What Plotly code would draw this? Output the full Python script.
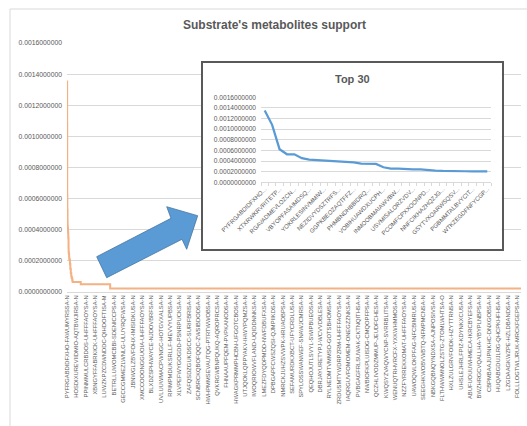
import plotly.graph_objects as go

# ---- data -------------------------------------------------------------
# Support of the 31 highest-ranked substrate metabolites (rank 1 = highest)
top_ranks = list(range(1, 32))
top_support = [0.001352, 0.001082, 0.000623, 0.000528, 0.000528, 0.000453, 0.000428,
               0.000421, 0.000415, 0.000409, 0.000396, 0.000384, 0.000377, 0.000352,
               0.000346, 0.000346, 0.000283, 0.000258, 0.000258, 0.000245, 0.000245,
               0.000245, 0.000226, 0.000220, 0.000214, 0.000208, 0.000208, 0.000208,
               0.000208, 0.000208, 0.000208]

# Labels shown on the "Top 30" axis (every second rank)
top_label_ranks = list(range(1, 32, 2))
top_labels = [
    "PYFRGABDIDFXHO...", "XTXRWKRVRITETP...", "RGAVADMEVLOZCN...", "VBYOPFASAIMDSQ...",
    "YOKRLESINVMMIW...", "NEZIDVYDSZTRFS...", "GGPKBEOZAQTFFZ...", "PHMBNDHBBIDRQ...",
    "VOBIHUAWDXUCPH...", "INMOOBMAIAWVBW...", "USVMISALORZVDV...", "PCOMFCPXXOONPD...",
    "NNFCIKHAZHQZJG...", "GSYTVXOARWSQSV...", "PGBMMTALBVYCIT...", "WTKZEGDFNFYCGP...",
]

# Long tail: rank at which each support level starts
tail_ranks = [32, 36, 41, 46, 51, 56, 61, 147, 461]
tail_support = [0.00018, 0.00015, 0.00012, 0.00010, 0.00009, 0.000075, 0.000065,
                0.00005, 0.000022]
total_substrates = 4843

# Substrate keys labelled on the full axis (every 100th rank)
axis_label_ranks = list(range(1, total_substrates, 100))
axis_labels = [
    "PYFRGABDIDFXHO-FAWUMYRSSA-N", "HOSDIXUREVIIDMIO-AQTBWJIRSA-N",
    "PPINMMULCRBDOS-UHFFFAOYSA-N", "XBNGYFFABRKICK-UHFFFAOYSA-N",
    "LUWZKPZCDWNDDC-QIHDOFTISA-M", "BETRLLUWOMCBBI-SDENICCPSA-N",
    "GECCGMMEZLWNLG-ULUYRQFWSA-N", "JBNWGLZBVFOHX-IMISIDKUSA-N",
    "XMCCOOONGGUOIA-UHFFFAOYSA-N", "BLXDZSPHWAYCE-NJDOVBRFSA-N",
    "UVLUUWMACPWNGC-HOTGVXALSA-N", "RPIMPMDUKSRLLF-MEVVYUPBSA-N",
    "XLVPEFWYGOGDD-PSNRPUCKSA-N", "ZAFQSDZGUKDSCC-SURIFBRISA-N",
    "SCNBRCKQBOFQQC-ZWSIBDODSA-N", "HWHPMMSEVAUTQG-PTRTWWOBSA-N",
    "QVKRGWBNPQUKQ-AQROPRCSA-N", "FHNAAUPFQEM-PVPKANODSA-N",
    "HWAGKPRMMPHCBN-UFGOTCBOSA-N", "UTJQOKLQPPYAKV-IHWYPQMZSA-N",
    "IWOQRIOWVFLAND-UQIDDNNKSA-N", "LMEZFDYQDPMDD-NWFDBUFXSA-N",
    "DPBGAPFCWSZQSI-QJMPIIKDSA-N", "NMRCKJUHZSVWPK-HRUAOBPSA-N",
    "SEFAMURDKXBCT-UFYCRDLUSA-N", "SPYLOSSWANWEF-SNAWJCMRSA-N",
    "QEQHOJUTLSVYL-SWIPBUEOSA-N", "DBRJAYURETYPJ-WCVVDBLESA-N",
    "RYLNEDMTVMMSO-GOTSBHOMSA-N", "ZRDUSMTYWDRPZRM-UHFFFAOYSA-N",
    "IAQRGUVFOMOMEM-ONEGZZNKSA-N", "PVBGAGFRLSUWAK-CKTNQITHSA-N",
    "NWBIOFKPLUISDG-CMQOPFPSA-N", "QCZHLIVODZMMUP-JEUDFCHESA-N",
    "KWQSYZVAQWYCNP-SVRRBLITSA-N", "WENUQTRHVRCFX-YXKWHMMOSA-N",
    "NZZFYRREKKOMAT-UHFFFAOYSA-N", "UAWOQWLOKPFAG-NFCBIMRUSA-N",
    "SEEGHKWOBVWBTQ-NFMPMCNSA-N", "NBKGQBNQYNDXSA-AJNPOSIVSA-N",
    "FLTHWWMNOLZSTG-ZTOMLWHTSA-O", "HXLZULGRVFOIDK-HZYTTRNSA-N",
    "UHSLEJHRLFPIZ-KDYNKXCUSA-N", "ABUFUOUUWHMECA-IKRCBYEFSA-N",
    "BWZHRGCVQALLHA-YBYPLNBPSA-N", "CBPMBAAJUPNKHC-DNXGOBSA-N",
    "HUQABGDUJLRG-QHCPKHFHSA-N", "LZGDAAGKWZPE-HZLDBANDSA-N",
    "FOLLLOGTWLJRUK-MRCKFGEPSA-N",
]

y_ticks = [i * 0.0002 for i in range(9)]

# ---- geometry helpers (pixel -> paper coordinates) ---------------------
W, H = 527, 426
ML, MR, MT, MB = 67, 6, 43, 134
PW, PH = W - ML - MR, H - MT - MB


def fx(p):
    return (p - ML) / PW


def fy(p):
    return (H - MB - p) / PH


FONT = "Liberation Sans, Arial, sans-serif"
TXT = "#595959"
GRID = "#D9D9D9"

fig = go.Figure()

# Full ranking (orange step curve)
fig.add_trace(go.Scatter(
    x=top_ranks + tail_ranks + [total_substrates],
    y=top_support + tail_support + [tail_support[-1]],
    mode="lines", line=dict(color="#F4B183", width=2, shape="hv"),
    showlegend=False, hoverinfo="skip",
))

# Empty trace that owns the white inset panel
fig.add_trace(go.Scatter(x=[], y=[], xaxis="x2", yaxis="y2",
                         showlegend=False, hoverinfo="skip"))

# Top 30 inset (blue line)
fig.add_trace(go.Scatter(
    x=top_ranks, y=top_support, xaxis="x3", yaxis="y3",
    mode="lines", line=dict(color="#5B9BD5", width=2.25),
    showlegend=False, hoverinfo="skip",
))

fig.update_layout(
    width=W, height=H,
    margin=dict(l=ML, r=MR, t=MT, b=MB),
    paper_bgcolor="white", plot_bgcolor="white",
    font=dict(family=FONT, color=TXT),
    xaxis=dict(
        range=[0.5, total_substrates + 0.5],
        tickmode="array", tickvals=axis_label_ranks, ticktext=axis_labels,
        tickangle=-90, tickfont=dict(size=5.8, color=TXT),
        showgrid=False, zeroline=False,
        showline=True, linecolor=GRID, linewidth=1, ticks="",
    ),
    yaxis=dict(
        range=[0, 0.0016], tickmode="array", tickvals=y_ticks,
        tickformat=".10f", tickfont=dict(size=6.8, color=TXT),
        showgrid=True, gridcolor=GRID, gridwidth=1,
        zeroline=False, showline=False, ticks="", ticklabelstandoff=4,
    ),
    xaxis2=dict(
        domain=[fx(203), fx(501.7)], anchor="y2", range=[0, 1],
        showgrid=False, zeroline=False, showticklabels=False, ticks="",
        showline=True, mirror=True, linecolor="#595959", linewidth=1.5,
    ),
    yaxis2=dict(
        domain=[fy(249.3), fy(63.3)], anchor="x2", range=[0, 1],
        showgrid=False, zeroline=False, showticklabels=False, ticks="",
        showline=True, mirror=True, linecolor="#595959", linewidth=1.5,
    ),
    xaxis3=dict(
        domain=[fx(261), fx(491)], anchor="y3", range=[0.5, 31.5],
        tickmode="array", tickvals=top_label_ranks, ticktext=top_labels,
        tickangle=-45, tickfont=dict(size=6, color=TXT),
        showgrid=False, zeroline=False, ticks="",
        showline=True, linecolor=GRID, linewidth=1,
        minor=dict(ticks="outside", tick0=0.5, dtick=1, ticklen=3,
                   tickcolor=GRID, showgrid=False),
    ),
    yaxis3=dict(
        domain=[fy(182.3), fy(97.3)], anchor="x3", range=[0, 0.0016],
        tickmode="array", tickvals=y_ticks,
        tickformat=".10f", tickfont=dict(size=6.6, color=TXT),
        showgrid=True, gridcolor=GRID, gridwidth=1,
        zeroline=False, showline=False, ticks="", ticklabelstandoff=4,
    ),
)

# Titles
fig.add_annotation(
    text="<b>Substrate's metabolites support</b>", xref="paper", yref="paper",
    x=fx(274), y=fy(25), xanchor="center", yanchor="middle", showarrow=False,
    font=dict(size=12, color=TXT, family=FONT),
)
fig.add_annotation(
    text="<b>Top 30</b>", xref="paper", yref="paper",
    x=fx(352.5), y=fy(79), xanchor="center", yanchor="middle", showarrow=False,
    font=dict(size=11, color=TXT, family=FONT),
)

# Outer chart border
fig.add_shape(type="rect", xref="paper", yref="paper",
              x0=fx(10), y0=fy(440), x1=fx(545), y1=fy(9),
              line=dict(color=GRID, width=1), fillcolor="rgba(0,0,0,0)",
              layer="above")

# Block arrow pointing from the tail towards the inset
arrow_pts = [(96.7, 256.7), (171, 218.3), (166.7, 206.7), (197.7, 215.7),
             (186.7, 249.3), (182, 239.3), (106.7, 277.7)]
path = "M " + " L ".join(f"{fx(a):.5f},{fy(b):.5f}" for a, b in arrow_pts) + " Z"
fig.add_shape(type="path", xref="paper", yref="paper", path=path,
              fillcolor="#5B9BD5", line=dict(color="#41719C", width=0.75),
              layer="above")

fig.write_html("out.html")
